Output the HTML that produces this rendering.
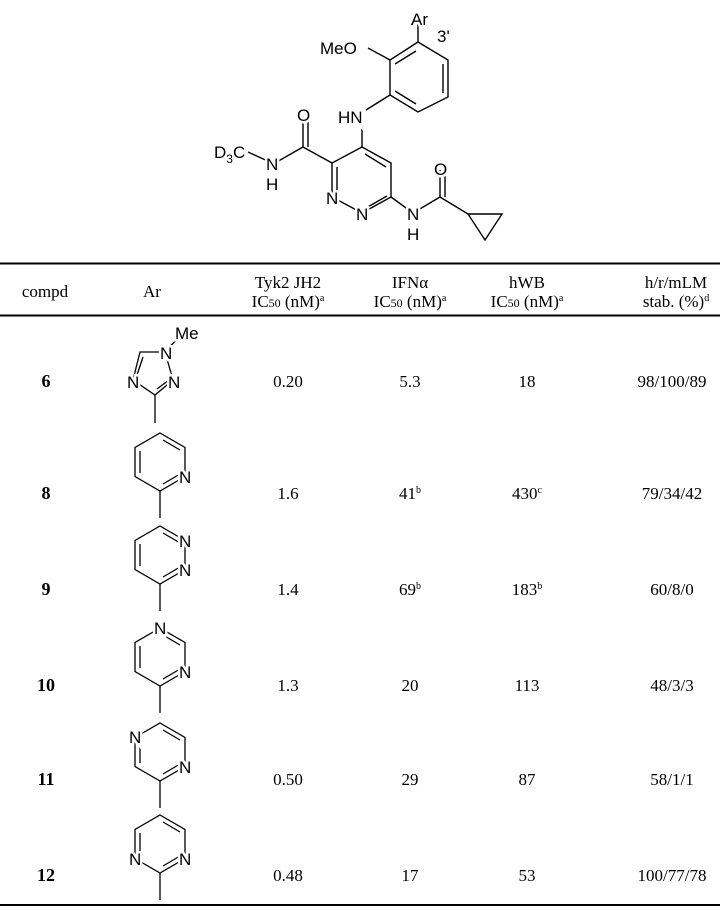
<!DOCTYPE html>
<html><head><meta charset="utf-8"><style>
html,body{margin:0;padding:0;background:#fff;}
svg{display:block}
.c{font-family:"Liberation Sans",sans-serif;font-size:17px;fill:#000;stroke:#fff;stroke-width:5px;paint-order:stroke;}
.t{font-family:"Liberation Serif",serif;font-size:17px;fill:#000;}
.b{font-family:"Liberation Serif",serif;font-size:18px;font-weight:bold;fill:#000;}
</style></head><body>
<svg width="720" height="910" viewBox="0 0 720 910" xmlns="http://www.w3.org/2000/svg">
<defs>
<g id="dbl" stroke="#000" stroke-width="1.3" fill="none">
<polygon points="160,0 185,14.5 185,43.5 160,58 135,43.5 135,14.5"/>
<line x1="140" y1="18" x2="140" y2="40"/>
<line x1="163" y1="7" x2="180" y2="17"/>
<line x1="180" y1="41" x2="163" y2="51"/>
<line x1="160" y1="58" x2="160" y2="85"/>
</g>
</defs>
<g stroke="#000" stroke-width="1.4" fill="none">
<polygon points="418,42 448,60 448,97 418,112 390,95 390,60"/>
<line x1="395" y1="64" x2="416" y2="51"/>
<line x1="443" y1="64" x2="443" y2="93"/>
<line x1="395" y1="91" x2="416" y2="104"/>
<line x1="418" y1="42" x2="418" y2="22"/>
<line x1="390" y1="60" x2="368" y2="48"/>
<line x1="390" y1="95" x2="366" y2="110"/>
<line x1="362" y1="126" x2="362" y2="147"/>
<polyline points="362,147 391,163 391,197 362,213 332,197 332,163 362,147"/>
<line x1="386" y1="167" x2="365" y2="154"/>
<line x1="337" y1="167" x2="337" y2="193"/>
<line x1="366" y1="208" x2="387" y2="196"/>
<line x1="332" y1="163" x2="303" y2="147"/>
<line x1="303" y1="147" x2="303" y2="120"/>
<line x1="308" y1="147" x2="308" y2="122"/>
<line x1="303" y1="147" x2="275" y2="163"/>
<line x1="272" y1="163" x2="248" y2="152"/>
<line x1="391" y1="197" x2="413" y2="213"/>
<line x1="413" y1="213" x2="440" y2="197"/>
<line x1="440" y1="197" x2="440" y2="170"/>
<line x1="445" y1="197" x2="445" y2="172"/>
<line x1="440" y1="197" x2="468" y2="214"/>
<polygon points="468,214 502,214 485,240"/>
</g>
<text class="c" x="411" y="25">Ar</text>
<text class="c" x="437" y="42">3'</text>
<text class="c" x="320" y="54">MeO</text>
<text class="c" x="338" y="123">HN</text>
<text class="c" x="297" y="121">O</text>
<text class="c" x="434" y="175">O</text>
<text class="c" x="214" y="158">D<tspan font-size="12" dy="5">3</tspan><tspan dy="-5">C</tspan></text>
<text class="c" x="266" y="170">N</text>
<text class="c" x="266" y="190">H</text>
<text class="c" x="326" y="204">N</text>
<text class="c" x="356" y="220">N</text>
<text class="c" x="407" y="220">N</text>
<text class="c" x="407" y="240">H</text>
<line x1="0" y1="263.5" x2="720" y2="263.5" stroke="#000" stroke-width="2"/>
<line x1="0" y1="315.5" x2="720" y2="315.5" stroke="#000" stroke-width="2"/>
<line x1="0" y1="905" x2="720" y2="905" stroke="#000" stroke-width="2"/>
<g class="t" text-anchor="middle">
<text x="45" y="297">compd</text>
<text x="152" y="297">Ar</text>
<text x="288" y="288">Tyk2 JH2</text>
<text x="288" y="307">IC<tspan font-size="12">50</tspan> (nM)<tspan font-size="10" dy="-6">a</tspan></text>
<text x="410" y="288">IFNα</text>
<text x="410" y="307">IC<tspan font-size="12">50</tspan> (nM)<tspan font-size="10" dy="-6">a</tspan></text>
<text x="527" y="288">hWB</text>
<text x="527" y="307">IC<tspan font-size="12">50</tspan> (nM)<tspan font-size="10" dy="-6">a</tspan></text>
<text x="676" y="288">h/r/mLM</text>
<text x="676" y="307">stab. (%)<tspan font-size="10" dy="-6">d</tspan></text>
</g>
<g text-anchor="middle">
<text class="b" x="46" y="387">6</text>
<text class="t" x="288" y="387">0.20</text><text class="t" x="410" y="387">5.3</text><text class="t" x="527" y="387">18</text><text class="t" x="672" y="387">98/100/89</text>
<text class="b" x="46" y="499">8</text>
<text class="t" x="288" y="499">1.6</text><text class="t" x="410" y="499">41<tspan font-size="10" dy="-6">b</tspan></text><text class="t" x="527" y="499">430<tspan font-size="10" dy="-6">c</tspan></text><text class="t" x="672" y="499">79/34/42</text>
<text class="b" x="46" y="595">9</text>
<text class="t" x="288" y="595">1.4</text><text class="t" x="410" y="595">69<tspan font-size="10" dy="-6">b</tspan></text><text class="t" x="527" y="595">183<tspan font-size="10" dy="-6">b</tspan></text><text class="t" x="672" y="595">60/8/0</text>
<text class="b" x="46" y="691">10</text>
<text class="t" x="288" y="691">1.3</text><text class="t" x="410" y="691">20</text><text class="t" x="527" y="691">113</text><text class="t" x="672" y="691">48/3/3</text>
<text class="b" x="46" y="785">11</text>
<text class="t" x="288" y="785">0.50</text><text class="t" x="410" y="785">29</text><text class="t" x="527" y="785">87</text><text class="t" x="672" y="785">58/1/1</text>
<text class="b" x="46" y="881">12</text>
<text class="t" x="288" y="881">0.48</text><text class="t" x="410" y="881">17</text><text class="t" x="527" y="881">53</text><text class="t" x="672" y="881">100/77/78</text>
</g>
<g stroke="#000" stroke-width="1.3" fill="none">
<polygon points="140,352 165,352 173,380 155,395 133,380"/>
<line x1="137" y1="375" x2="143" y2="357"/>
<line x1="157" y1="389" x2="169" y2="380"/>
<line x1="165" y1="352" x2="178" y2="338"/>
<line x1="155" y1="395" x2="155" y2="423"/>
</g>
<text class="c" x="175" y="339">Me</text>
<text class="c" x="160" y="359">N</text>
<text class="c" x="168" y="388">N</text>
<text class="c" x="127" y="388">N</text>
<use href="#dbl" x="0" y="433"/>
<text class="c" x="179" y="483">N</text>
<use href="#dbl" x="0" y="526"/>
<text class="c" x="179" y="547">N</text>
<text class="c" x="179" y="576">N</text>
<use href="#dbl" x="0" y="628"/>
<text class="c" x="154" y="634">N</text>
<text class="c" x="179" y="678">N</text>
<use href="#dbl" x="0" y="723"/>
<text class="c" x="129" y="743">N</text>
<text class="c" x="179" y="773">N</text>
<use href="#dbl" x="0" y="815"/>
<text class="c" x="129" y="865">N</text>
<text class="c" x="179" y="865">N</text>
</svg>
</body></html>
